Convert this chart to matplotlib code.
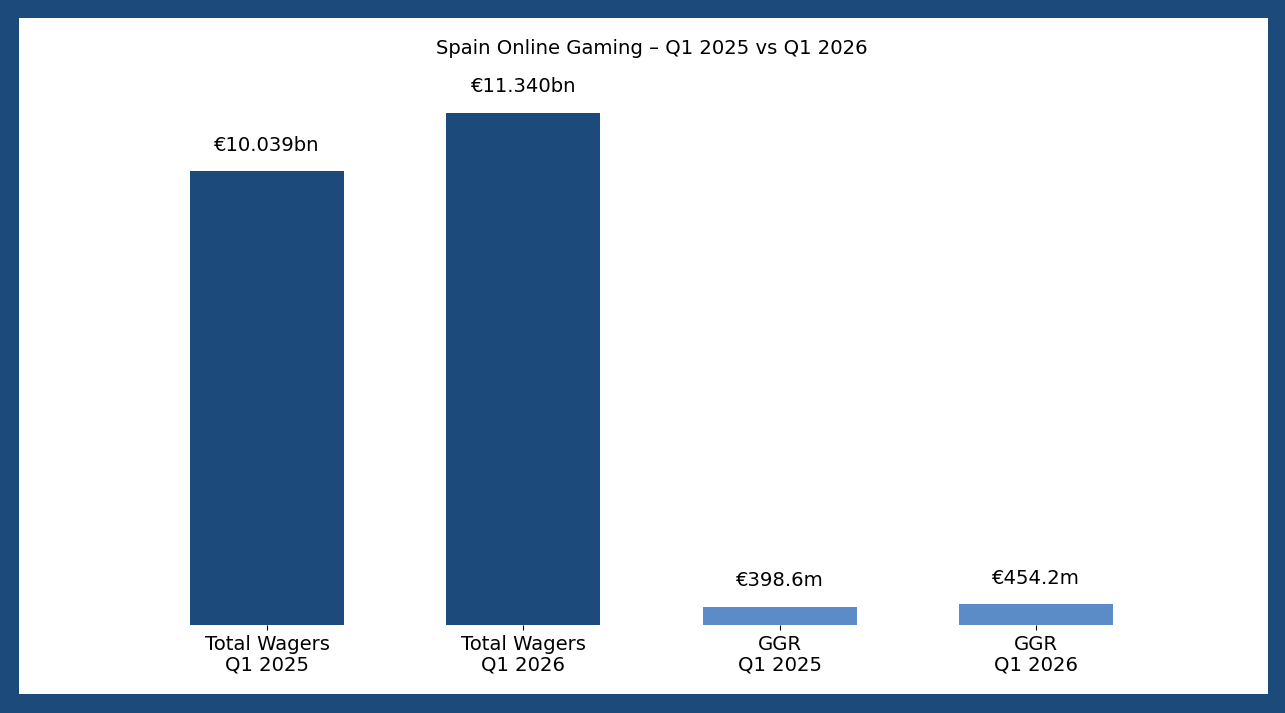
import matplotlib.pyplot as plt
from matplotlib.patches import Rectangle

categories = ['Total Wagers\nQ1 2025', 'Total Wagers\nQ1 2026', 'GGR\nQ1 2025', 'GGR\nQ1 2026']
values_m = [10039, 11340, 398.6, 454.2]
value_labels = ['€10.039bn', '€11.340bn', '€398.6m', '€454.2m']

dark = '#1c4a7a'
light = '#5b8cc8'
colors = [dark, dark, light, light]

fig = plt.figure(figsize=(12.85, 7.13), dpi=100)
fig.patch.set_facecolor(dark)
# white inner panel inside the blue frame
fig.patches.append(Rectangle((19 / 1285, 19 / 713), (1268 - 19) / 1285, (694 - 18) / 713,
                             transform=fig.transFigure, facecolor='white', edgecolor='none', zorder=-5))

ax = fig.add_axes([144 / 1285, 88 / 713, (1159 - 144) / 1285, (625 - 87) / 713])
ax.set_zorder(2)
ax.set_facecolor('none')
x = range(len(categories))
bars = ax.bar(x, values_m, width=0.6, color=colors)
ax.set_xlim(-0.48, 3.48)
ax.set_ylim(0, 11907)

for b, lab in zip(bars, value_labels):
    ax.annotate(lab, (b.get_x() + b.get_width() / 2, b.get_height()),
                xytext=(0, 12), textcoords='offset points',
                ha='center', va='bottom', fontsize=14.1)

ax.set_xticks(list(x))
ax.set_xticklabels(categories, fontsize=14.1, linespacing=1.1)
ax.set_yticks([])
for s in ax.spines.values():
    s.set_visible(False)
ax.set_title('Spain Online Gaming – Q1 2025 vs Q1 2026', fontsize=14.1, pad=24)

fig.savefig('out.png', dpi=100, facecolor=fig.get_facecolor())
